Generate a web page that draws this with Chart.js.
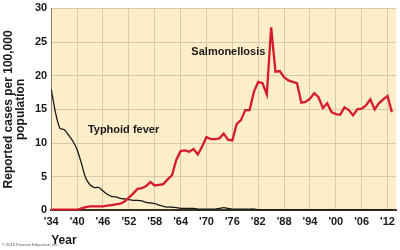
<!DOCTYPE html>
<html>
<head>
<meta charset="utf-8">
<script src="https://cdn.jsdelivr.net/npm/chart.js@4.4.1/dist/chart.umd.min.js"></script>
<style>
  html, body { margin: 0; padding: 0; background: #fff; }
  #wrap { position: relative; width: 400px; height: 250px; }
  #credit { position: absolute; left: 2px; top: 242px; font: 4px "Liberation Sans", Arial, sans-serif; color: #555; }
</style>
</head>
<body>
<div id="wrap">
  <canvas id="myChart" width="400" height="250"></canvas>
  <div id="credit">© 2016 Pearson Education, Inc.</div>
</div>
<script>
const years = [];
for (let y = 1934; y <= 2013; y++) years.push(y);

const salmonellosis = [
  0.1, 0.1, 0.1, 0.1, 0.1, 0.1, 0.1, 0.3, 0.5, 0.6,
  0.6, 0.6, 0.6, 0.7, 0.8, 0.9, 1.0, 1.3, 1.9, 2.5,
  3.2, 3.3, 3.6, 4.2, 3.7, 3.8, 3.9, 4.6, 5.2, 7.5,
  8.8, 8.9, 8.7, 9.1, 8.3, 9.5, 10.9, 10.6, 10.6, 10.7,
  11.4, 10.5, 10.4, 12.8, 13.4, 14.9, 14.9, 17.6, 19.1, 18.9,
  17.2, 27.2, 20.6, 20.7, 19.8, 19.3, 19.1, 18.9, 16.0, 16.1,
  16.6, 17.4, 16.8, 15.2, 15.9, 14.6, 14.3, 14.2, 15.3, 14.9,
  14.1, 15.0, 15.1, 15.6, 16.5, 15.0, 15.9, 16.5, 17.0, 14.6
];

const typhoid = [
  18.0, 14.5, 12.2, 12.0, 11.2, 10.3, 9.0, 7.0, 4.8, 3.8,
  3.4, 3.4, 2.9, 2.4, 2.1, 2.0, 1.8, 1.7, 1.6, 1.5,
  1.5, 1.4, 1.2, 1.1, 1.0, 0.8, 0.6, 0.5, 0.5, 0.4,
  0.3, 0.3, 0.3, 0.3, 0.2, 0.2, 0.2, 0.2, 0.2, 0.3,
  0.4, 0.3, 0.2, 0.2, 0.2, 0.2, 0.2, 0.2, 0.1, 0.1,
  0.1, 0.1, 0.1, 0.1, 0.1, 0.1, 0.1, 0.1, 0.1, 0.1,
  0.1, 0.1, 0.1, 0.1, 0.1, 0.1, 0.1, 0.1, 0.1, 0.1,
  0.1, 0.1, 0.1, 0.1, 0.1, 0.1, 0.1, 0.1, 0.1, 0.1
];

const xTicks = [1934, 1940, 1946, 1952, 1958, 1964, 1970, 1976, 1982, 1988, 1994, 2000, 2006, 2012];
const yTicks = [0, 5, 10, 15, 20, 25, 30];

const FONT = '"Liberation Sans", Arial, sans-serif';

const plotBg = {
  id: 'plotBg',
  beforeDraw(chart) {
    const a = chart.chartArea;
    const c = chart.ctx;
    c.save();
    c.fillStyle = '#fdedc8';
    c.fillRect(a.left, a.top, a.right - a.left, a.bottom - a.top);
    c.restore();
  }
};

const seriesLabels = {
  id: 'seriesLabels',
  afterDatasetsDraw(chart) {
    const x = chart.scales.x, y = chart.scales.y, c = chart.ctx;
    c.save();
    c.fillStyle = '#1a1a1a';
    c.font = 'bold 11px ' + FONT;
    c.textBaseline = 'middle';
    c.fillText('Typhoid fever', x.getPixelForValue(1942.5), y.getPixelForValue(12));
    c.fillText('Salmonellosis', x.getPixelForValue(1966.5), y.getPixelForValue(23.6));
    c.restore();
  }
};

new Chart(document.getElementById('myChart'), {
  type: 'line',
  data: {
    labels: years,
    datasets: [{
      label: 'Salmonellosis',
      data: years.map((yr, i) => ({ x: yr, y: salmonellosis[i] })),
      borderColor: 'rgb(214, 28, 42)',
      borderWidth: 2.3,
      pointRadius: 0,
      tension: 0
    }, {
      label: 'Typhoid fever',
      data: years.map((yr, i) => ({ x: yr, y: typhoid[i] })),
      borderColor: '#1a1a1a',
      borderWidth: 1.3,
      pointRadius: 0,
      tension: 0.3
    }]
  },
  options: {
    responsive: false,
    animation: false,
    layout: { padding: { top: 0, right: 1, bottom: 2, left: 3 } },
    plugins: {
      legend: { display: false },
      tooltip: { enabled: false }
    },
    scales: {
      x: {
        type: 'linear',
        min: 1934,
        max: 2014,
        afterBuildTicks: s => { s.ticks = xTicks.map(v => ({ value: v })); },
        ticks: {
          callback: v => "'" + String(v).slice(2),
          font: { family: FONT, size: 11, weight: 'bold' },
          color: '#1a1a1a',
          maxRotation: 0,
          padding: 5
        },
        grid: { color: 'rgb(214, 202, 172)', drawTicks: false },
        border: { color: '#3a3226', width: 2 },
        title: {
          display: true,
          text: 'Year',
          align: 'start',
          font: { family: FONT, size: 12, weight: 'bold' },
          color: '#1a1a1a',
          padding: { top: 0, bottom: 0 }
        }
      },
      y: {
        min: 0,
        max: 30,
        afterBuildTicks: s => { s.ticks = yTicks.map(v => ({ value: v })); },
        ticks: {
          font: { family: FONT, size: 11, weight: 'bold', lineHeight: 0.8 },
          color: '#1a1a1a',
          padding: 4
        },
        grid: { color: 'rgb(214, 202, 172)', drawTicks: false },
        border: { color: '#8a7f6c', width: 1 },
        title: {
          display: true,
          text: ['Reported cases per 100,000', 'population'],
          font: { family: FONT, size: 12, weight: 'bold', lineHeight: 1.0 },
          color: '#1a1a1a',
          padding: { top: 0, bottom: 4 }
        }
      }
    }
  },
  plugins: [plotBg, seriesLabels]
});
</script>
</body>
</html>
